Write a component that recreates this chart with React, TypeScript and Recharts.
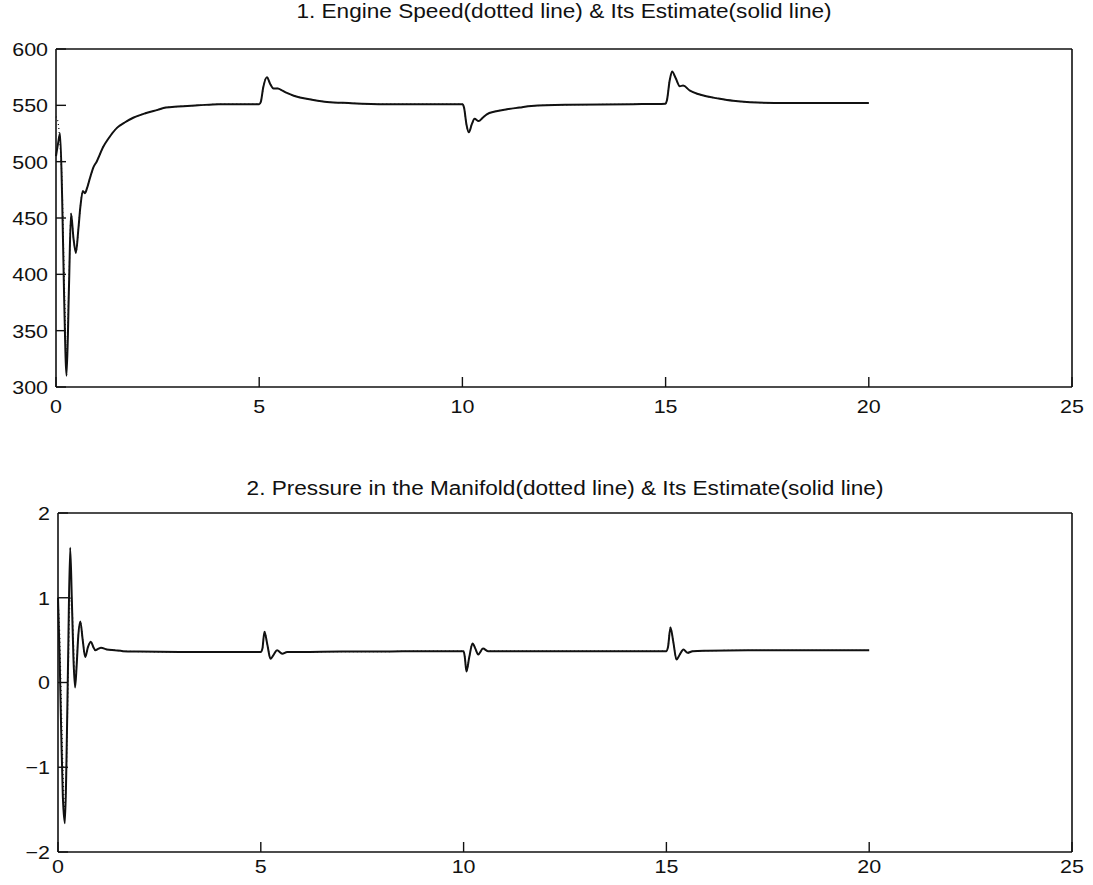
import { Line, LineChart, XAxis, YAxis } from 'recharts'

// engine speed: estimate (solid) and measured (dotted)
const speedTime = [
  0, 0.05, 0.1, 0.15, 0.2, 0.26, 0.32, 0.37, 0.43, 0.49, 0.55, 0.6, 0.66, 0.71, 0.76, 0.84, 0.92, 1.0,
  1.16, 1.3, 1.5, 1.7, 1.9, 2.2, 2.5, 2.7, 3.0, 3.5, 4.0, 4.5, 5.0, 5.04, 5.1, 5.19, 5.27, 5.35, 5.46,
  5.57, 5.68, 5.85, 6.0, 6.3, 6.67, 7.2, 8.1, 9.0, 10.0, 10.04, 10.1, 10.16, 10.23, 10.3, 10.4, 10.5,
  10.6, 10.8, 11.1, 11.4, 11.7, 12.6, 14.2, 15.0, 15.03, 15.1, 15.16, 15.25, 15.35, 15.43, 15.6, 15.8,
  16.0, 16.3, 16.66, 17.25, 18.0, 19.0, 20.0,
]
const speedEstimate = [
  505, 516, 525, 470, 380, 310, 390, 454, 432, 419, 440, 460, 474, 472, 476, 486, 495, 500,
  513, 521, 530, 535, 539, 543, 546, 548, 549, 550, 551, 551, 551, 553, 566, 575, 569, 565, 565,
  563, 561, 558.5, 557, 555, 553, 552, 551, 551, 551, 548, 533, 526, 533, 538, 536, 539,
  542, 544.5, 546.5, 548, 549.5, 550.5, 551, 551.5, 554, 572, 580, 574, 567, 567.5, 563, 560,
  558, 556, 554, 552.5, 552, 552, 552,
]
const speedMeasured = [
  540, 535, 515, 480, 400, 330, 395, 454, 432, 419, 440, 460, 474, 472, 476, 486, 495, 500,
  513, 521, 530, 535, 539, 543, 546, 548, 549, 550, 551, 551, 551, 553, 566, 575, 569, 565, 565,
  563, 561, 558.5, 557, 555, 553, 552, 551, 551, 551, 548, 533, 526, 533, 538, 536, 539,
  542, 544.5, 546.5, 548, 549.5, 550.5, 551, 551.5, 554, 572, 580, 574, 567, 567.5, 563, 560,
  558, 556, 554, 552.5, 552, 552, 552,
]

// manifold pressure: estimate (solid) and measured (dotted)
const pressureTime = [
  0, 0.04, 0.08, 0.12, 0.17, 0.21, 0.25, 0.3, 0.34, 0.38, 0.42, 0.46, 0.5, 0.55, 0.61, 0.67, 0.74,
  0.81, 0.87, 0.92, 1.0, 1.06, 1.2, 1.4, 1.6, 2.0, 3.0, 4.0, 5.0, 5.04, 5.09, 5.16, 5.24, 5.32, 5.4,
  5.53, 5.65, 6.0, 7.0, 8.0, 9.0, 10.0, 10.03, 10.07, 10.14, 10.22, 10.29, 10.36, 10.48, 10.6, 11.0,
  12.0, 13.0, 14.0, 15.0, 15.04, 15.1, 15.17, 15.25, 15.33, 15.42, 15.52, 15.65, 16.0, 17.0, 18.0,
  19.0, 20.0,
]
const pressureEstimate = [
  1.0, 0.3, -0.6, -1.35, -1.66, -0.9, 0.3, 1.59, 1.0, 0.3, -0.06, 0.2, 0.55, 0.72, 0.5, 0.3, 0.42,
  0.48, 0.42, 0.38, 0.4, 0.41, 0.39, 0.38, 0.37, 0.365, 0.36, 0.36, 0.36, 0.4, 0.6, 0.45, 0.28, 0.33, 0.38,
  0.34, 0.36, 0.36, 0.365, 0.365, 0.37, 0.37, 0.3, 0.13, 0.3, 0.46, 0.4, 0.33, 0.4, 0.37, 0.37,
  0.37, 0.37, 0.37, 0.37, 0.42, 0.65, 0.48, 0.27, 0.33, 0.39, 0.35, 0.37, 0.375, 0.38, 0.38,
  0.38, 0.38,
]
const pressureMeasured = [
  0.95, 0.6, -0.2, -1.0, -1.5, -1.0, 0.0, 1.0, 0.95, 0.5, 0.0, 0.25, 0.55, 0.72, 0.5, 0.3, 0.42,
  0.48, 0.42, 0.38, 0.4, 0.41, 0.39, 0.38, 0.37, 0.365, 0.36, 0.36, 0.36, 0.4, 0.6, 0.45, 0.28, 0.33, 0.38,
  0.34, 0.36, 0.36, 0.365, 0.365, 0.37, 0.37, 0.3, 0.13, 0.3, 0.46, 0.4, 0.33, 0.4, 0.37, 0.37,
  0.37, 0.37, 0.37, 0.37, 0.42, 0.65, 0.48, 0.27, 0.33, 0.39, 0.35, 0.37, 0.375, 0.38, 0.38,
  0.38, 0.38,
]

const timeTicks = [0, 5, 10, 15, 20, 25]
const speedTicks = [300, 350, 400, 450, 500, 550, 600]
const pressureTicks = [-2, -1, 0, 1, 2]

const FONT = '"Liberation Sans", Arial, Helvetica, sans-serif'
const INK = '#111'
const TICK = 10
const STRETCH = 1.13 // the printed lettering runs a little wide

const fmt = (v: number) => (v < 0 ? `\u2212${Math.abs(v)}` : `${v}`)

// tick labels drawn by hand so they can be widened like the printed ones
const XTick = (props: any) => {
  const { x, y, payload } = props
  return (
    <g transform={`translate(${x},${y})`}>
      <text transform={`scale(${STRETCH},1)`} textAnchor="middle" dy="0.71em" fontSize={19} fontFamily={FONT} fill={INK}>
        {fmt(payload.value)}
      </text>
    </g>
  )
}

const YTick = (props: any) => {
  const { x, y, payload } = props
  return (
    <g transform={`translate(${x},${y})`}>
      <text transform={`scale(${STRETCH},1)`} textAnchor="end" dy="0.36em" fontSize={19} fontFamily={FONT} fill={INK}>
        {fmt(payload.value)}
      </text>
    </g>
  )
}

interface PanelProps {
  title: string
  titleTop: number
  time: number[]
  estimate: number[]
  measured: number[]
  yDomain: [number, number]
  yTicks: number[]
  top: number
  left: number
  bottom: number
  xLabelGap: number
}

function Panel({ title, titleTop, time, estimate, measured, yDomain, yTicks, top, left, bottom, xLabelGap }: PanelProps) {
  const data = time.map((t, i) => ({ t, est: estimate[i], meas: measured[i] }))
  const axisLine = { stroke: INK, strokeWidth: 1.6 }
  const tickLine = { stroke: INK, strokeWidth: 1.4 }
  return (
    <>
      <div
        style={{
          position: 'absolute',
          left,
          width: 1072 - left,
          top: titleTop,
          textAlign: 'center',
          fontFamily: FONT,
          fontSize: 20,
          lineHeight: '20px',
          color: INK,
          transform: `scaleX(${STRETCH})`,
        }}
      >
        {title}
      </div>
      <div style={{ position: 'absolute', left: 0, top: top - 39, width: 1093, height: 420 }}>
        <LineChart
          width={1093}
          height={420}
          data={data}
          margin={{ top: 38, right: 20, bottom: 420 - 30 - (bottom - top + 39), left: 0 }}
        >
          <XAxis
            dataKey="t"
            type="number"
            domain={[0, 25]}
            ticks={timeTicks}
            interval={0}
            height={1}
            xAxisId="top"
            orientation="top"
            tick={false}
            tickSize={-TICK}
            axisLine={axisLine}
            tickLine={tickLine}
          />
          <XAxis
            dataKey="t"
            type="number"
            domain={[0, 25]}
            ticks={timeTicks}
            interval={0}
            height={30}
            xAxisId="bottom"
            tick={<XTick />}
            tickSize={-TICK}
            tickMargin={TICK + xLabelGap}
            axisLine={axisLine}
            tickLine={tickLine}
          />
          <YAxis
            yAxisId="left"
            type="number"
            domain={yDomain}
            ticks={yTicks}
            interval={0}
            width={left}
            tick={<YTick />}
            tickSize={-TICK}
            tickMargin={TICK + 8}
            axisLine={axisLine}
            tickLine={tickLine}
          />
          <YAxis
            yAxisId="right"
            orientation="right"
            type="number"
            domain={yDomain}
            ticks={yTicks}
            interval={0}
            width={1}
            tick={false}
            tickSize={-TICK}
            axisLine={axisLine}
            tickLine={tickLine}
          />
          <Line
            xAxisId="bottom"
            yAxisId="left"
            dataKey="meas"
            type="monotone"
            stroke={INK}
            strokeWidth={1.2}
            strokeDasharray="1 3"
            dot={false}
            isAnimationActive={false}
          />
          <Line
            xAxisId="bottom"
            yAxisId="left"
            dataKey="est"
            type="monotone"
            stroke={INK}
            strokeWidth={2}
            dot={false}
            isAnimationActive={false}
          />
        </LineChart>
      </div>
    </>
  )
}

export default function App() {
  return (
    <div style={{ position: 'absolute', left: 0, top: 0, width: 1093, height: 885, overflow: 'hidden', background: '#fff' }}>
      <Panel
        title="1. Engine Speed(dotted line) & Its Estimate(solid line)"
        titleTop={1}
        time={speedTime}
        estimate={speedEstimate}
        measured={speedMeasured}
        yDomain={[300, 600]}
        yTicks={speedTicks}
        top={49}
        bottom={387}
        left={56}
        xLabelGap={12}
      />
      <Panel
        title="2. Pressure in the Manifold(dotted line) & Its Estimate(solid line)"
        titleTop={478}
        time={pressureTime}
        estimate={pressureEstimate}
        measured={pressureMeasured}
        yDomain={[-2, 2]}
        yTicks={pressureTicks}
        top={513}
        bottom={852}
        left={58}
        xLabelGap={7}
      />
    </div>
  )
}
